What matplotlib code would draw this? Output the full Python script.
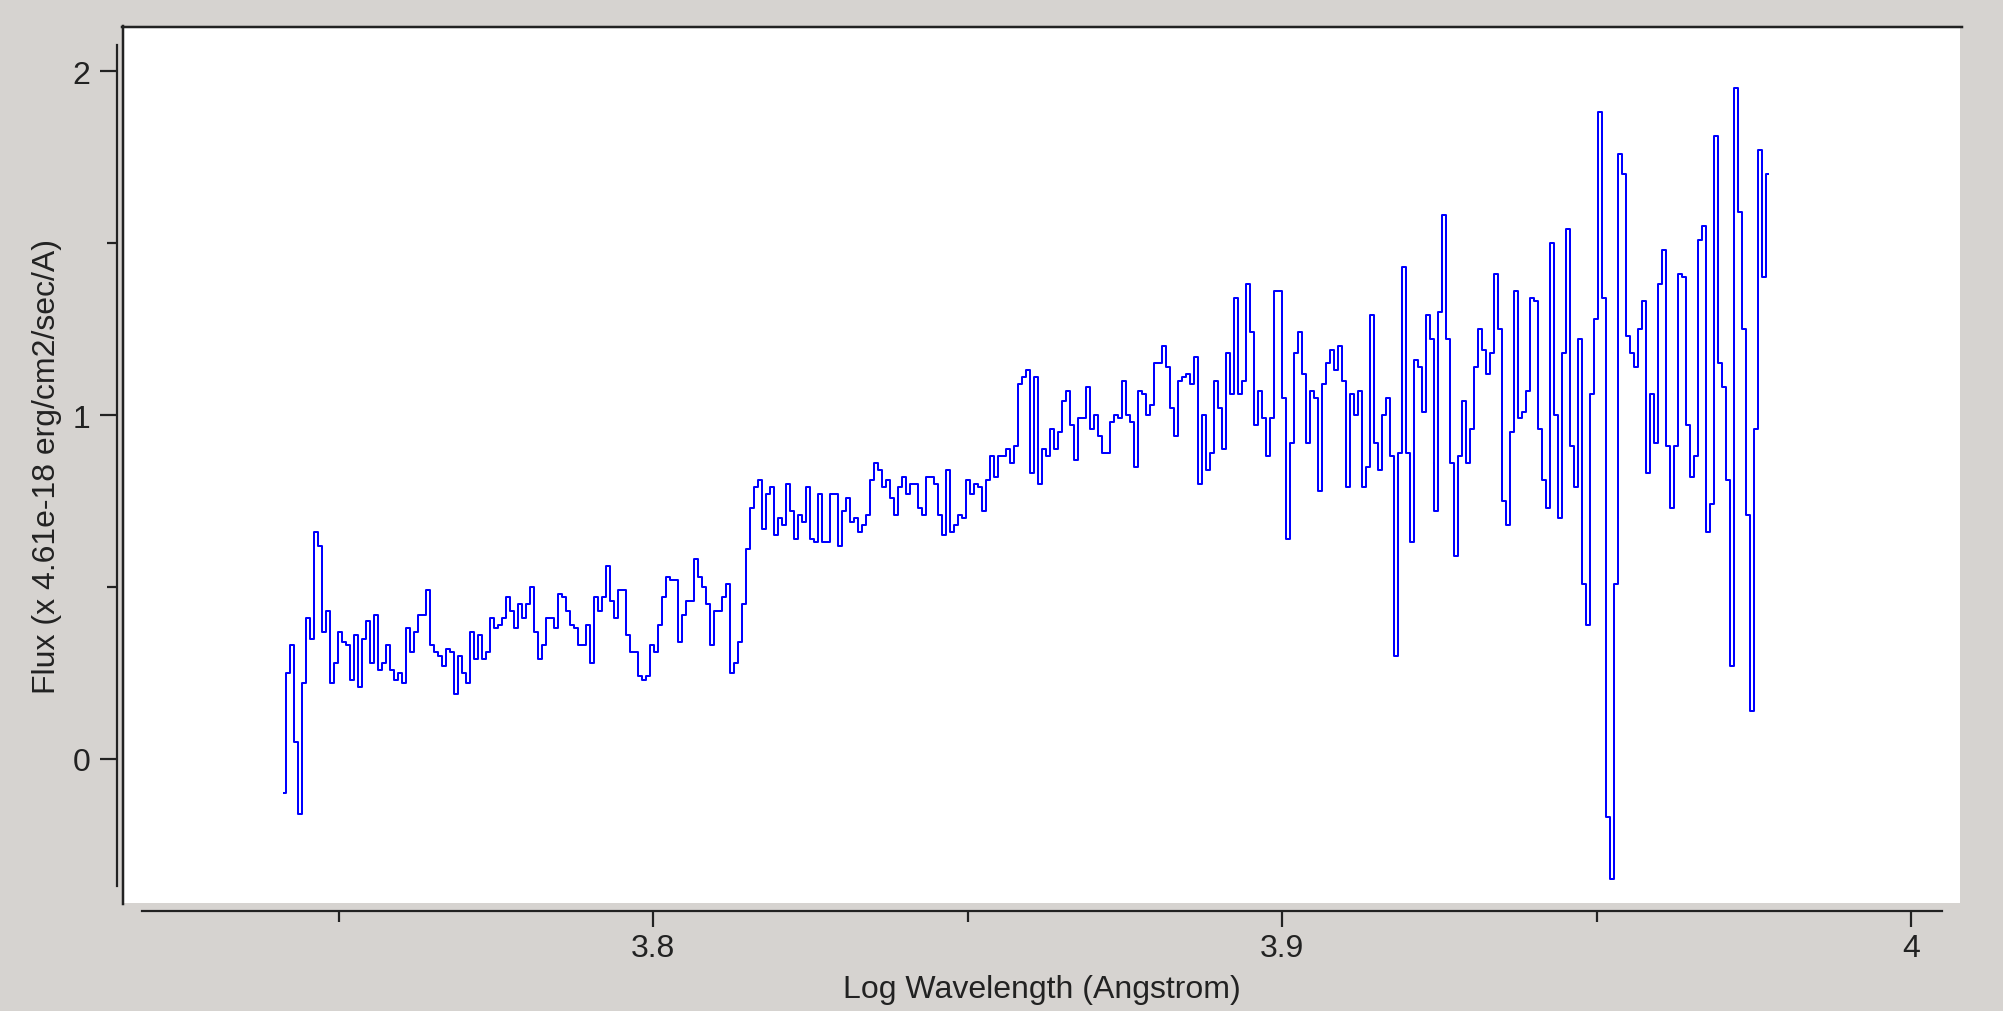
import numpy as np
import matplotlib
matplotlib.use("Agg")
import matplotlib.pyplot as plt
from matplotlib.patches import Rectangle
from matplotlib.lines import Line2D

# ---------------- data ----------------
# uniform log-wavelength grid (start and step)
loglam_start = 3.7413
loglam_step = 0.000636

flux = [
    # 3.741 - 3.780
    -0.10, 0.25, 0.33, 0.05, -0.16, 0.22, 0.41, 0.35, 0.66, 0.62,
    0.37, 0.43, 0.22, 0.28, 0.37, 0.34, 0.33, 0.23, 0.36, 0.21,
    0.35, 0.40, 0.28, 0.42, 0.26, 0.28, 0.33, 0.26, 0.23, 0.25,
    0.22, 0.38, 0.31, 0.37, 0.42, 0.42, 0.49, 0.33, 0.31, 0.30,
    0.27, 0.32, 0.31, 0.19, 0.30, 0.25, 0.22, 0.37, 0.29, 0.36,
    0.29, 0.31, 0.41, 0.38, 0.39, 0.41, 0.47, 0.43, 0.38, 0.45,
    0.41, 0.45,
    # 3.780 - 3.820
    0.50, 0.37, 0.29, 0.33, 0.41, 0.41, 0.38, 0.48, 0.47, 0.43,
    0.39, 0.38, 0.33, 0.33, 0.39, 0.28, 0.47, 0.43, 0.47, 0.56,
    0.46, 0.41, 0.49, 0.49, 0.36, 0.31, 0.31, 0.24, 0.23, 0.24,
    0.33, 0.31, 0.39, 0.47, 0.53, 0.52, 0.52, 0.34, 0.42, 0.46,
    0.46, 0.58, 0.53, 0.50, 0.45, 0.33, 0.43, 0.43, 0.47, 0.51,
    0.25, 0.28, 0.34, 0.45, 0.61, 0.73, 0.79, 0.81, 0.67, 0.77,
    0.79, 0.65, 0.70,
    # 3.820 - 3.860
    0.68, 0.80, 0.72, 0.64, 0.71, 0.69, 0.79, 0.64, 0.63, 0.77,
    0.63, 0.63, 0.77, 0.77, 0.62, 0.72, 0.76, 0.69, 0.70, 0.66,
    0.68, 0.71, 0.81, 0.86, 0.84, 0.79, 0.81, 0.76, 0.71, 0.79,
    0.82, 0.77, 0.80, 0.80, 0.73, 0.71, 0.82, 0.82, 0.80, 0.71,
    0.65, 0.84, 0.66, 0.68, 0.71, 0.70, 0.81, 0.77, 0.80, 0.79,
    0.72, 0.81, 0.88, 0.82, 0.88, 0.88, 0.90, 0.86, 0.91, 1.09,
    1.11, 1.13,
    # 3.860 - 3.900
    0.83, 1.11, 0.80, 0.90, 0.88, 0.96, 0.90, 0.95, 1.04, 1.07,
    0.97, 0.87, 0.99, 0.99, 1.08, 0.96, 1.00, 0.94, 0.89, 0.89,
    0.98, 1.00, 0.99, 1.10, 1.00, 0.98, 0.85, 1.07, 1.06, 1.00,
    1.03, 1.15, 1.15, 1.20, 1.14, 1.02, 0.94, 1.10, 1.11, 1.12,
    1.09, 1.17, 0.80, 1.00, 0.84, 0.89, 1.10, 1.02, 0.90, 1.18,
    1.06, 1.34, 1.06, 1.10, 1.38, 1.24, 0.97, 1.07, 0.99, 0.88,
    0.99, 1.36, 1.36,
    # 3.900 - 3.940
    1.05, 0.64, 0.92, 1.18, 1.24, 1.12, 0.92, 1.07, 1.05, 0.78,
    1.09, 1.15, 1.19, 1.13, 1.20, 1.10, 0.79, 1.06, 1.00, 1.07,
    0.79, 0.85, 1.29, 0.92, 0.84, 1.00, 1.05, 0.88, 0.30, 0.89,
    1.43, 0.89, 0.63, 1.16, 1.14, 1.01, 1.29, 1.22, 0.72, 1.30,
    1.58, 1.22, 0.86, 0.59, 0.88, 1.04, 0.86, 0.96, 1.14, 1.25,
    1.19, 1.12, 1.18, 1.41, 1.25, 0.75, 0.68, 0.95, 1.36, 0.99,
    1.01, 1.07,
    # 3.940 - 3.977
    1.34, 1.33, 0.96, 0.81, 0.73, 1.50, 1.00, 0.70, 1.18, 1.54,
    0.91, 0.79, 1.22, 0.51, 0.39, 1.06, 1.28, 1.88, 1.34, -0.17,
    -0.35, 0.51, 1.76, 1.70, 1.23, 1.18, 1.14, 1.25, 1.33, 0.83,
    1.06, 0.92, 1.38, 1.48, 0.91, 0.73, 0.91, 1.41, 1.40, 0.97,
    0.82, 0.88, 1.51, 1.55, 0.66, 0.74, 1.81, 1.15, 1.08, 0.81,
    0.27, 1.95, 1.59, 1.25, 0.71, 0.14, 0.96, 1.77, 1.40, 1.70,
]

x_major = [3.8, 3.9, 4.0]
x_major_labels = ["3.8", "3.9", "4"]
x_minor = [3.75, 3.85, 3.95]
y_major = [0, 1, 2]
y_major_labels = ["0", "1", "2"]
y_minor = [0.5, 1.5]

xlabel = "Log Wavelength (Angstrom)"
ylabel = "Flux (x 4.61e-18 erg/cm2/sec/A)"

# ---------------- figure ----------------
W, H = 2003, 1012
DPI = 100
PX = 72.0 / DPI  # points per pixel

plt.rcParams['font.family'] = ['Liberation Sans', 'DejaVu Sans']

BG = '#d6d3d0'
INK = '#222222'

fig = plt.figure(figsize=(W / DPI, H / DPI), dpi=DPI, facecolor=BG)


def fx(px):
    return px / W


def fy(py):
    return 1 - py / H


# white sunken panel
panel = Rectangle((fx(123), fy(904)), fx(1960) - fx(123), fy(27) - fy(904),
                  transform=fig.transFigure, facecolor='white',
                  edgecolor='none', zorder=-3)
fig.add_artist(panel)
fig.add_artist(Line2D([fx(123), fx(123)], [fy(905), fy(27)],
                      transform=fig.transFigure, color=INK,
                      lw=2.5 * PX, zorder=-2))
fig.add_artist(Line2D([fx(122), fx(1962)], [fy(27.5), fy(27.5)],
                      transform=fig.transFigure, color=INK,
                      lw=2.5 * PX, zorder=-2))

ax = fig.add_axes([fx(142), fy(887), fx(1942) - fx(142), fy(46) - fy(887)])
ax.set_facecolor('none')

x = loglam_start + loglam_step * np.arange(len(flux))
ax.plot(x, flux, color='#0000ff', lw=2.0 * PX, drawstyle='steps-mid')

ax.set_xlim(3.71867, 4.00493)
ax.set_ylim(-0.3692, 2.0756)

for side in ('top', 'right'):
    ax.spines[side].set_visible(False)
for side in ('left', 'bottom'):
    ax.spines[side].set_position(('outward', 25 * PX))
    ax.spines[side].set_color(INK)
    ax.spines[side].set_linewidth(2.2 * PX)

ax.set_xticks(x_major)
ax.set_xticklabels(x_major_labels)
ax.set_xticks(x_minor, minor=True)
ax.set_yticks(y_major)
ax.set_yticklabels(y_major_labels)
ax.set_yticks(y_minor, minor=True)

fs = 23
ax.tick_params(axis='x', which='major', direction='out', length=16 * PX,
               width=2.2 * PX, color=INK, labelcolor=INK, labelsize=fs,
               pad=6 * PX)
ax.tick_params(axis='x', which='minor', direction='out', length=11 * PX,
               width=2.2 * PX, color=INK)
ax.tick_params(axis='y', which='major', direction='out', length=17 * PX,
               width=2.2 * PX, color=INK, labelcolor=INK, labelsize=fs,
               pad=10 * PX)
ax.tick_params(axis='y', which='minor', direction='out', length=10 * PX,
               width=2.2 * PX, color=INK)

ax.set_xlabel(xlabel, fontsize=fs, color=INK, labelpad=8)
ax.set_ylabel(ylabel, fontsize=fs, color=INK, labelpad=7)

fig.savefig('out.png', dpi=DPI, facecolor=BG)
